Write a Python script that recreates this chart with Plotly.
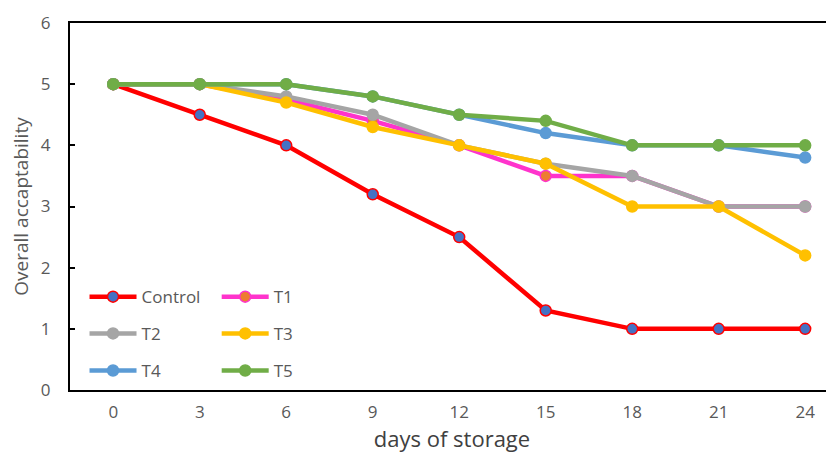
import plotly.graph_objects as go

days = [0, 3, 6, 9, 12, 15, 18, 21, 24]
control = [5, 4.5, 4, 3.2, 2.5, 1.3, 1, 1, 1]
t1 = [5, 5, 4.75, 4.4, 4.0, 3.5, 3.5, 3.0, 3.0]
t2 = [5, 5, 4.8, 4.5, 4.0, 3.7, 3.5, 3.0, 3.0]
t3 = [5, 5, 4.7, 4.3, 4.0, 3.7, 3.0, 3.0, 2.2]
t4 = [5, 5, 5, 4.8, 4.5, 4.2, 4.0, 4.0, 3.8]
t5 = [5, 5, 5, 4.8, 4.5, 4.4, 4.0, 4.0, 4.0]

series = [
    ("Control", control, "#FF0000", "#4472C4"),
    ("T1", t1, "#FF33CC", "#ED7D31"),
    ("T2", t2, "#A5A5A5", "#A5A5A5"),
    ("T3", t3, "#FFC000", "#FFC000"),
    ("T4", t4, "#5B9BD5", "#5B9BD5"),
    ("T5", t5, "#70AD47", "#70AD47"),
]

# legend positions (paper coords), two columns x three rows
leg_x = [0.019, 0.192]
leg_y = [0.253, 0.153, 0.052]

FONT = "Open Sans"
fig = go.Figure()
legend_layouts = {}
for i, (name, vals, lc, mc) in enumerate(series):
    key = "legend" if i == 0 else f"legend{i+1}"
    fig.add_trace(go.Scatter(
        x=days, y=vals, name=name, mode="lines+markers",
        line=dict(color=lc, width=4.5),
        marker=dict(size=11, color=mc, line=dict(color=lc, width=1.5)),
        legend=key,
    ))
    col = i % 2
    row = i // 2
    legend_layouts[key] = dict(
        x=leg_x[col], y=leg_y[row], xanchor="left", yanchor="middle",
        bgcolor="rgba(0,0,0,0)", borderwidth=0,
        font=dict(family=FONT, size=17, color="#595959"),
        tracegroupgap=0, itemwidth=47,
    )

fig.update_layout(
    width=834, height=458,
    margin=dict(l=62, r=8, t=15, b=76, autoexpand=False),
    paper_bgcolor="white", plot_bgcolor="white",
    showlegend=True,
    xaxis=dict(
        range=[-1.5, 25.0], tickvals=days, ticktext=[str(d) for d in days],
        showline=True, linecolor="black", linewidth=2, mirror=True,
        showgrid=False, zeroline=False, ticks="",
        tickfont=dict(family=FONT, size=17, color="#595959"),
        ticklabelstandoff=6,
        title=dict(text="days of storage", font=dict(family=FONT, size=22, color="#404040"), standoff=9),
    ),
    yaxis=dict(
        range=[0, 6], tickvals=[0, 1, 2, 3, 4, 5, 6],
        showline=True, linecolor="black", linewidth=2,
        showgrid=False, zeroline=False, ticks="inside", ticklen=5, tickcolor="black", tickwidth=2,
        tickfont=dict(family=FONT, size=17, color="#595959"),
        ticklabelstandoff=14,
        title=dict(text="Overall accaptability", font=dict(family=FONT, size=19, color="#595959"), standoff=8),
    ),
    **legend_layouts,
)

fig.write_html("out.html")
